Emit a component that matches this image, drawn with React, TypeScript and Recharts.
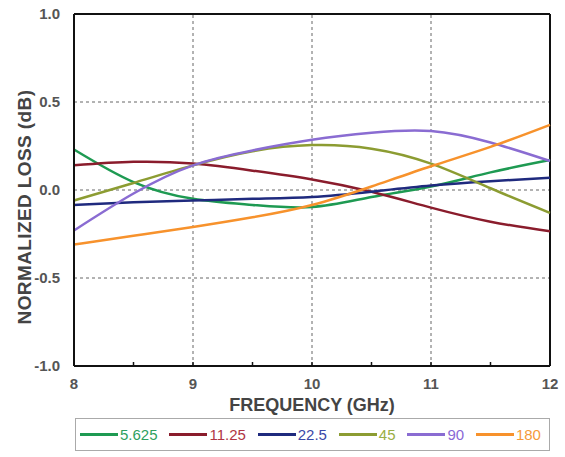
import { LineChart, Line, XAxis, YAxis, ReferenceLine, Legend, Label } from "recharts";

const frequency = [8, 8.5, 9, 9.5, 10, 10.5, 11, 11.5, 12];
const loss5625 = [0.23, 0.045, -0.05, -0.085, -0.097, -0.04, 0.02, 0.1, 0.17];
const loss1125 = [0.14, 0.16, 0.15, 0.11, 0.06, -0.01, -0.1, -0.18, -0.235];
const loss225 = [-0.085, -0.07, -0.06, -0.05, -0.04, -0.01, 0.025, 0.05, 0.07];
const loss45 = [-0.06, 0.04, 0.14, 0.22, 0.255, 0.235, 0.15, 0.01, -0.13];
const loss90 = [-0.23, -0.02, 0.14, 0.225, 0.285, 0.325, 0.335, 0.27, 0.165];
const loss180 = [-0.31, -0.26, -0.21, -0.155, -0.085, 0.02, 0.135, 0.245, 0.37];

const xTicks = [8, 8.5, 9, 9.5, 10, 10.5, 11, 11.5, 12];
const yTicks = [-1, -0.5, 0, 0.5, 1];

const series = [
  { key: "s5625", name: "5.625", values: loss5625, color: "#1e9a52", text: "#2ea060" },
  { key: "s1125", name: "11.25", values: loss1125, color: "#8a1c2c", text: "#b03545" },
  { key: "s225", name: "22.5", values: loss225, color: "#1f2a7e", text: "#3a48a8" },
  { key: "s45", name: "45", values: loss45, color: "#8c9c32", text: "#9aae45" },
  { key: "s90", name: "90", values: loss90, color: "#8a6cd2", text: "#8a68d6" },
  { key: "s180", name: "180", values: loss180, color: "#f7922c", text: "#f59a3a" },
];

const data = frequency.map((f, i) => {
  const row: Record<string, number> = { f };
  series.forEach((s) => (row[s.key] = s.values[i]));
  return row;
});

const font = "'Liberation Sans', Arial, sans-serif";

function XTick(props: any) {
  const { x, y, payload } = props;
  const major = Number.isInteger(payload.value);
  return (
    <g>
      <line x1={x} y1={y} x2={x} y2={y - 4} stroke="#111" strokeWidth={1.5} />
      {major && (
        <text x={x} y={y + 23} textAnchor="middle" fill="#555" fontSize={15} fontWeight="bold" fontFamily={font}>
          {payload.value}
        </text>
      )}
    </g>
  );
}

function YTick(props: any) {
  const { x, y, payload } = props;
  return (
    <text x={x - 6} y={y + 5} textAnchor="end" fill="#555" fontSize={15} fontWeight="bold" fontFamily={font}>
      {payload.value.toFixed(1)}
    </text>
  );
}

function YTitle(props: any) {
  const { viewBox } = props;
  const cy = viewBox.y + viewBox.height / 2 + 17;
  return (
    <text
      x={31}
      y={cy}
      transform={`rotate(-90, 31, ${cy})`}
      textAnchor="middle"
      fill="#444"
      fontSize={19}
      fontWeight="bold"
      letterSpacing={0.4}
      fontFamily={font}
    >
      NORMALIZED LOSS (dB)
    </text>
  );
}

function LegendBox() {
  return (
    <div
      style={{
        width: 475,
        height: 33,
        border: "1px solid #aaa",
        display: "flex",
        alignItems: "center",
        justifyContent: "space-between",
        padding: "0 8px 0 4px",
        boxSizing: "border-box",
        fontFamily: font,
        fontSize: 15,
      }}
    >
      {series.map((s) => (
        <div key={s.key} style={{ display: "flex", alignItems: "center" }}>
          <div style={{ width: 38, height: 3, background: s.color, marginRight: 2 }} />
          <span style={{ color: s.text }}>{s.name}</span>
        </div>
      ))}
    </div>
  );
}

export default function App() {
  return (
    <div style={{ position: "absolute", left: 0, top: 0, width: 565, height: 457, background: "#fff" }}>
      <LineChart width={565} height={457} data={data} margin={{ top: 14, right: 15, left: 0, bottom: 41 }}>
        <ReferenceLine y={0.5} stroke="#666" strokeDasharray="3 3" />
        <ReferenceLine y={0} stroke="#666" strokeDasharray="3 3" />
        <ReferenceLine y={-0.5} stroke="#666" strokeDasharray="3 3" />
        <ReferenceLine x={9} stroke="#666" strokeDasharray="3 3" />
        <ReferenceLine x={10} stroke="#666" strokeDasharray="3 3" />
        <ReferenceLine x={11} stroke="#666" strokeDasharray="3 3" />
        <XAxis
          dataKey="f"
          type="number"
          domain={[8, 12]}
          ticks={xTicks}
          tickLine={false}
          tickSize={0}
          tickMargin={0}
          tick={<XTick />}
          axisLine={{ stroke: "#111", strokeWidth: 2 }}
          height={50}
          interval={0}
        >
          <Label value="FREQUENCY (GHz)" position="insideBottom" offset={5} fill="#444" fontSize={18} fontWeight="bold" fontFamily={font} />
        </XAxis>
        <YAxis
          type="number"
          domain={[-1, 1]}
          ticks={yTicks}
          tickLine={false}
          tick={<YTick />}
          axisLine={{ stroke: "#111", strokeWidth: 2 }}
          width={74}
          interval={0}
        >
          <Label content={<YTitle />} />
        </YAxis>
        <ReferenceLine y={1} stroke="#111" strokeWidth={2} />
        <ReferenceLine x={12} stroke="#111" strokeWidth={2} />
        {series.map((s) => (
          <Line
            key={s.key}
            dataKey={s.key}
            name={s.name}
            type="natural"
            stroke={s.color}
            strokeWidth={2.5}
            dot={false}
            isAnimationActive={false}
          />
        ))}
        <Legend
          layout="horizontal"
          align="center"
          verticalAlign="middle"
          content={<LegendBox />}
          wrapperStyle={{ top: 418, left: 75, width: 475 }}
        />
      </LineChart>
    </div>
  );
}
